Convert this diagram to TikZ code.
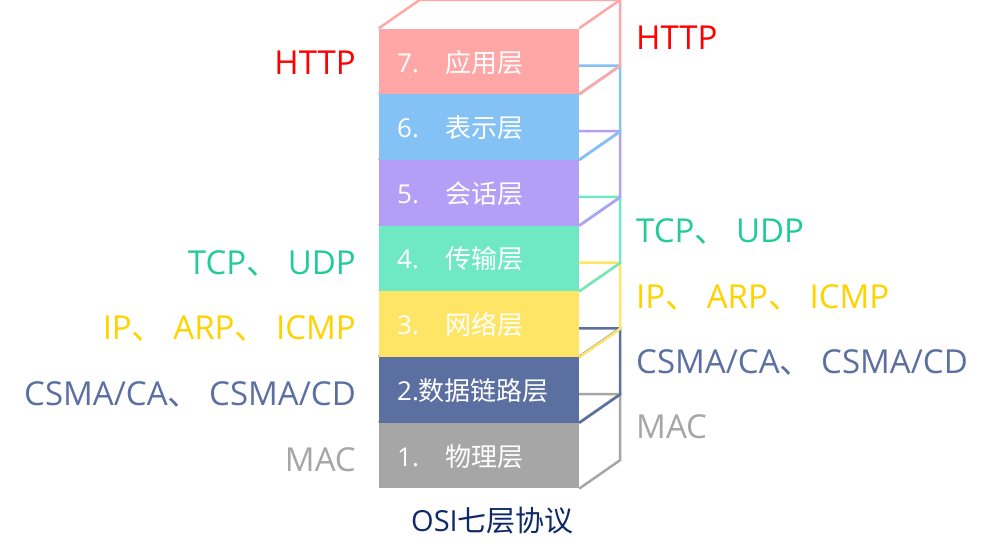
\documentclass[tikz,border=0pt]{standalone}
\usepackage{fontspec}
\setmainfont{Open Sans}
\newfontfamily\cjk{Noto Sans CJK SC}
\usetikzlibrary{calc}
\definecolor{c7}{RGB}{255,167,167}
\definecolor{c6}{RGB}{132,194,245}
\definecolor{c5}{RGB}{180,158,246}
\definecolor{c4}{RGB}{111,232,196}
\definecolor{c3}{RGB}{255,229,102}
\definecolor{c2}{RGB}{91,112,160}
\definecolor{c1}{RGB}{166,166,166}
\definecolor{pred}{RGB}{255,0,0}
\definecolor{pgreen}{RGB}{35,203,155}
\definecolor{pyellow}{RGB}{255,210,0}
\definecolor{pslate}{RGB}{91,112,160}
\definecolor{pgrey}{RGB}{166,166,166}
\definecolor{capcol}{RGB}{14,40,105}
\newcommand{\dun}{{\cjk 、}}
\begin{document}
\begin{tikzpicture}[x=1pt,y=-1pt,
  face/.style={minimum width=200pt, minimum height=65.7pt, inner sep=0pt, draw=none},
  edge/.style={line width=2.5pt},
  lnum/.style={text=white, font=\fontsize{26}{30}\selectfont, anchor=base west, inner sep=0pt},
  protol/.style={font=\fontsize{33}{38}\selectfont, anchor=base east, inner sep=0pt},
  protor/.style={font=\fontsize{33}{38}\selectfont, anchor=base west, inner sep=0pt},
  captext/.style={text=capcol, font=\fontsize{29}{34}\selectfont, anchor=base, inner sep=0pt}]
\useasboundingbox (0,0) rectangle (992,558);
\foreach \i/\t/\c in {1/422.7/c1, 2/357.0/c2, 3/291.3/c3, 4/225.6/c4, 5/159.9/c5, 6/94.2/c6, 7/28.5/c7}{
  \node[face, fill=\c] (L\i) at (479,\t+32.85) {};
  \draw[edge, \c] (L\i.north west) -- ++(41,-28.5) -| ($(L\i.south east)+(41,-28.5)$) -- (L\i.south east);
  \draw[edge, \c] (L\i.north east) -- ++(41,-28.5);
}
% layer labels
\node[lnum] (n7) at (397,72) {7.};  \node[lnum] (m7) at (445,72) {\cjk 应用层};
\node[lnum] (n6) at (397,137.5) {6.};  \node[lnum] (m6) at (445,137.5) {\cjk 表示层};
\node[lnum] (n5) at (397,203.2) {5.};  \node[lnum] (m5) at (445,203.2) {\cjk 会话层};
\node[lnum] (n4) at (397,268.9) {4.};  \node[lnum] (m4) at (445,268.9) {\cjk 传输层};
\node[lnum] (n3) at (397,334.6) {3.};  \node[lnum] (m3) at (445,334.6) {\cjk 网络层};
\node[lnum] (n2) at (397,400.3) {2.{\cjk 数据链路层}};
\node[lnum] (n1) at (397,466) {1.};  \node[lnum] (m1) at (445,466) {\cjk 物理层};
% left protocol labels
\node[protol, text=pred] (lh) at (356,74) {HTTP};
\node[protol, text=pgreen] (lt) at (356,274) {TCP\dun{} UDP};
\node[protol, text=pyellow] (li) at (356,339) {IP\dun{} ARP\dun{} ICMP};
\node[protol, text=pslate] (lc) at (356,405) {CSMA/CA\dun{} CSMA/CD};
\node[protol, text=pgrey] (lm) at (356,471) {MAC};
% right protocol labels
\node[protor, text=pred] (rh) at (636,49) {HTTP};
\node[protor, text=pgreen] (rt) at (636,242) {TCP\dun{} UDP};
\node[protor, text=pyellow] (ri) at (636,308) {IP\dun{} ARP\dun{} ICMP};
\node[protor, text=pslate] (rc) at (636,373) {CSMA/CA\dun{} CSMA/CD};
\node[protor, text=pgrey] (rm) at (636,438) {MAC};
% caption
\node[captext] (cap) at (492.5,531) {OSI{\cjk 七层协议}};
\end{tikzpicture}
\end{document}
